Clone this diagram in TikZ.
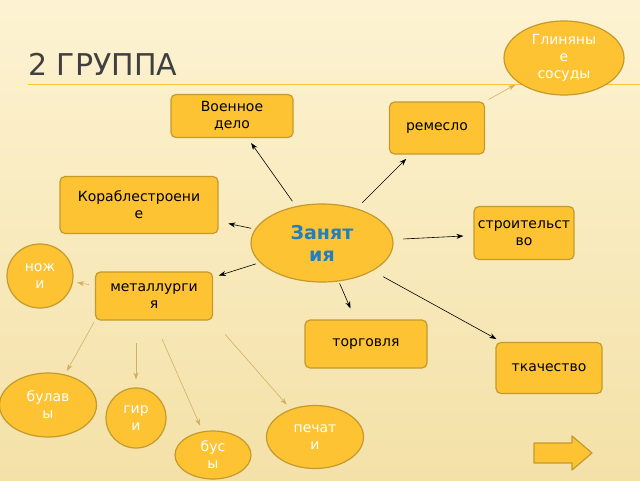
\documentclass[tikz,border=0pt]{standalone}
\usepackage{fontspec}
\setmainfont{DejaVu Sans}
\usetikzlibrary{shapes.geometric,arrows.meta}
\definecolor{boxfill}{HTML}{FDC332}
\definecolor{boxline}{HTML}{C49A2C}
\definecolor{tanline}{HTML}{D2B060}
\definecolor{bgtop}{HTML}{FDF3D2}
\definecolor{bgbot}{HTML}{F4E1A8}
\definecolor{titlegray}{HTML}{404040}
\definecolor{topicblue}{HTML}{1F7FC0}
\tikzset{%
  every topic/.style={
    rectangle, rounded corners=5pt, draw=boxline, line width=1.2pt,
    fill=boxfill, align=center, font=\fontsize{14}{17}\selectfont
  },
  every item/.style={
    ellipse, draw=boxline, line width=1.2pt, fill=boxfill,
    align=center, text=white, inner sep=0pt, font=\fontsize{14}{17}\selectfont
  },
  main link/.style={-{Stealth[length=7pt,width=5pt]}, line width=0.6pt, black},
  side link/.style={-{Stealth[length=7pt,width=5pt]}, line width=0.6pt, tanline},
}
\begin{document}
\begin{tikzpicture}[x=1pt, y=-1pt]

\shade[top color=bgtop, bottom color=bgbot] (0,0) rectangle (640,480);
\useasboundingbox (0,0) rectangle (640,480);

\node [anchor=base west, text=titlegray, font=\fontsize{30}{32}\selectfont,
  inner sep=0pt] (title) at (28,75) {2 ГРУППА};
\draw [boxfill, line width=0.7pt] (28,84) -- (640,84);

% centre
\node [ellipse, draw=boxline, line width=1.2pt, fill=boxfill, minimum width=142,
  minimum height=78, align=center, text=topicblue, inner sep=0pt,
  font=\bfseries\fontsize{19}{22}\selectfont] (zan) at (322,243) {Занят\\ия};

% topics
\node [every topic, minimum width=122, minimum height=43] (voen) at (232,116) {Военное\\дело};
\node [every topic, minimum width=95, minimum height=52] (rem) at (437,128) {ремесло};
\node [every topic, minimum width=158, minimum height=57] (kor) at (139,205) {Кораблестроени\\е};
\node [every topic, minimum width=100, minimum height=53] (str) at (524,233) {строительст\\во};
\node [every topic, minimum width=117, minimum height=48] (met) at (154,296) {металлурги\\я};
\node [every topic, minimum width=122, minimum height=48] (torg) at (366,344) {торговля};
\node [every topic, minimum width=106, minimum height=51] (tkach) at (549,368) {ткачество};

% items
\node [every item, minimum width=120, minimum height=74] (glin) at (564,58) {Глиняны\\е\\сосуды};
\node [every item, minimum width=66, minimum height=64] (nozh) at (40,276) {нож\\и};
\node [every item, minimum width=97, minimum height=64] (bul) at (48,405) {булав\\ы};
\node [every item, minimum width=60, minimum height=60] (gir) at (136,418) {гир\\и};
\node [every item, minimum width=76, minimum height=48] (bus) at (213,455) {бус\\ы};
\node [every item, minimum width=97, minimum height=63] (pech) at (315,437) {печат\\и};

% next button
\draw [boxline, line width=1.2pt, fill=boxfill, line join=round]
  (534,443) -- (572,443) -- (572,436) -- (592,453) -- (572,470)
  -- (572,463) -- (534,463) -- cycle;

% links from the centre
\draw [main link, shorten <=6pt, shorten >=6pt] (zan) -- (voen);
\draw [main link, shorten <=8pt, shorten >=6pt] (zan) -- (rem);
\draw [main link, shorten <=4pt, shorten >=10pt] (zan) -- (kor);
\draw [main link, shorten <=10pt, shorten >=10pt] (zan) -- (str);
\draw [main link, shorten <=4pt, shorten >=6pt] (zan) -- (met);
\draw [main link, shorten <=2pt, shorten >=12pt] (zan) -- (torg);
\draw [main link, shorten <=12pt, shorten >=6pt] (zan) -- (tkach);

% secondary links
\draw [side link, shorten <=4pt, shorten >=4pt] (rem.north east) -- (glin);
\draw [side link, shorten <=6pt, shorten >=4pt] (met) -- (nozh);
\draw [side link, shorten <=2pt, shorten >=4pt] (met.south west) -- (bul);
\draw [side link, shorten <=22pt, shorten >=8pt] (met.south west -| gir) -- (gir);
\draw [side link, shorten <=20pt, shorten >=6pt] (met.south) -- (bus);
\draw [side link, shorten <=18pt, shorten >=6pt] (met.south east) -- (pech);

\end{tikzpicture}
\end{document}
